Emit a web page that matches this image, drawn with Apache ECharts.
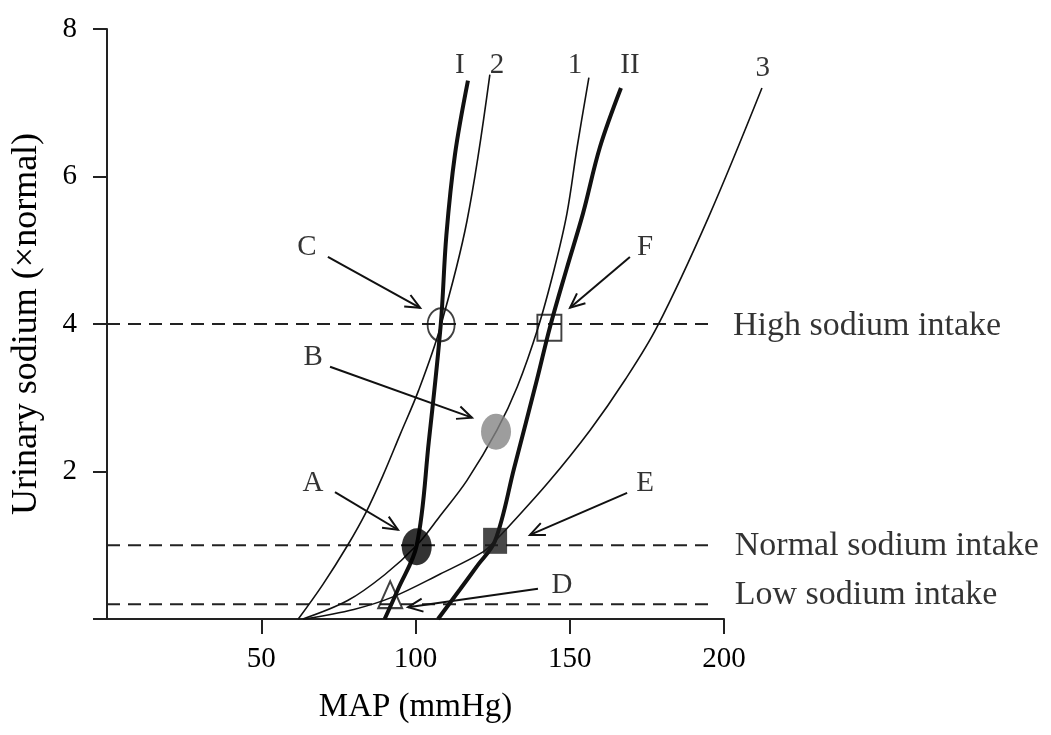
<!DOCTYPE html>
<html>
<head>
<meta charset="utf-8">
<script src="https://cdn.jsdelivr.net/npm/echarts@6/dist/echarts.min.js"></script>
<style>
html,body{margin:0;padding:0;background:#fff;}
#chart{width:1051px;height:735px;}
</style>
</head>
<body>
<div id="chart"></div>
<script>
// ---- data ----
var xTicks = [50, 100, 150, 200];
var yTicks = [0, 2, 4, 6, 8];
var yLabels = [2, 4, 6, 8];

// chronic curves (thick)
var curveI  = [[90,0],[94.3,0.4],[100.4,1],[104.3,2.4],[108.2,4],[110,5.2],[112.8,6.3],[117,7.3]];
var curveII = [[107.3,0],[114.4,0.4],[120,0.72],[125.8,1.06],[132,2.05],[139.4,3.25],[143.6,3.96],[149,4.75],[154.3,5.5],[159.8,6.4],[166.6,7.2]];
// acute curves (thin)
var curve1 = [[63.5,0],[78,0.25],[90,0.6],[100.4,1],[108,1.4],[116.7,1.88],[126.4,2.56],[133,3.15],[139.8,3.96],[145,4.75],[149.1,5.5],[152.4,6.4],[156.2,7.34]];
var curve2 = [[62,0],[70,0.47],[78,1],[84,1.45],[89.5,1.95],[95,2.5],[101,3.1],[108,3.95],[116.7,5.4],[124.1,7.38]];
var curve3 = [[64,0],[80,0.13],[92.7,0.3],[108,0.61],[121.9,0.91],[125.8,1.06],[129.7,1.23],[143,1.85],[156.6,2.56],[167.9,3.24],[178.3,3.96],[195,5.45],[212.3,7.2]];

var curveNames = ['I', '2', '1', 'II', '3'];
var curveLabelAt = [[114.4,7.51],[126.4,7.51],[151.7,7.51],[169.5,7.51],[212.6,7.47]];

// sodium intake levels
var levelValues = [4, 1, 0.2];
var levelNames = ['High sodium intake', 'Normal sodium intake', 'Low sodium intake'];
var levelEndX = 196;
var levelLabelAt = [[202.9,3.97],[203.5,0.99],[203.5,0.33]];

// operating points A-F
var pointNames = ['A', 'B', 'C', 'D', 'E', 'F'];
var pointValues = [[100.4,0.98],[126.1,2.54],[108.3,3.99],[91.8,0.33],[125.8,1.06],[143.4,3.95]];
var letterAt = [[66.8,1.84],[66.8,3.55],[64.8,5.04],[147.5,0.46],[174.4,1.84],[174.4,5.04]];
var arrowFrom = [[73.9,1.72],[72.3,3.42],[71.6,4.91],[139.7,0.41],[168.6,1.71],[169.5,4.91]];
var arrowTo   = [[94.3,1.21],[118.3,2.73],[101.5,4.22],[97.6,0.16],[137.1,1.14],[150.1,4.22]];

// ---- chart ----
var FONT = "'Liberation Serif', 'DejaVu Serif', serif";
var INK = '#000';

var X_LEFT = 107, X_RIGHT_PX = 724, X_MAX = 200, X_MAX_EXT = 220;
var pxPerUnit = (X_RIGHT_PX - X_LEFT) / X_MAX;
var extRight = 1051 - (X_LEFT + X_MAX_EXT * pxPerUnit);

var markerStyles = {
  A: {symbol:'circle', size:[30,37], itemStyle:{color:'#000', borderWidth:0}},
  B: {symbol:'circle', size:[30,36], itemStyle:{color:'#858585', borderWidth:0}},
  C: {symbol:'circle', size:[27,33], itemStyle:{color:'rgba(0,0,0,0)', borderColor:'#111', borderWidth:2}},
  D: {symbol:'triangle', size:[24,27], itemStyle:{color:'rgba(0,0,0,0)', borderColor:'#111', borderWidth:2}},
  E: {symbol:'rect', size:[24,26], itemStyle:{color:'#1a1a1a', borderWidth:0}},
  F: {symbol:'rect', size:[24,26], itemStyle:{color:'rgba(0,0,0,0)', borderColor:'#111', borderWidth:2}}
};

function curveSeries(data, width) {
  return {type:'line', data:data, smooth:0.35, showSymbol:false, symbol:'none', clip:false,
    xAxisIndex:1, yAxisIndex:1,
    lineStyle:{color:'#111', width:width}, z:3, silent:true};
}

var series = [
  curveSeries(curveI, 4),
  curveSeries(curve2, 1.6),
  curveSeries(curve1, 1.6),
  curveSeries(curveII, 4),
  curveSeries(curve3, 1.6)
];

levelValues.forEach(function (v) {
  series.push({type:'line', data:[[0,v],[levelEndX,v]], showSymbol:false, symbol:'none',
    lineStyle:{color:'#222', width:2.2, type:[13,8]}, z:2, silent:true});
});

function textSeries(points, names, pos, size) {
  return {type:'scatter', symbolSize:0, clip:false, silent:true, z:6,
    xAxisIndex:1, yAxisIndex:1,
    data: points.map(function (p, i) { return {value:p, name:names[i]}; }),
    label:{show:true, position:pos, distance:0, formatter:'{b}', color:INK, fontFamily:FONT, fontSize:size}};
}
series.push(textSeries(curveLabelAt, curveNames, 'inside', 29));
series.push(textSeries(letterAt, pointNames, 'inside', 29));
series.push(textSeries(levelLabelAt, levelNames, 'right', 34));

series.push({type:'scatter', clip:false, silent:true, z:5,
  data: pointValues.map(function (p, i) {
    var s = markerStyles[pointNames[i]];
    return {value:p, symbol:s.symbol, symbolSize:s.size, itemStyle:s.itemStyle};
  })});

series.push({type:'custom', clip:false, silent:true, z:4,
  data: arrowFrom.map(function (p, i) { return [p[0], p[1], arrowTo[i][0], arrowTo[i][1]]; }),
  renderItem: function (params, api) {
    var p0 = api.coord([api.value(0), api.value(1)]);
    var p1 = api.coord([api.value(2), api.value(3)]);
    var ang = Math.atan2(p1[1]-p0[1], p1[0]-p0[0]);
    var L = 16, a = 0.42;
    var h1 = [p1[0] - L*Math.cos(ang - a), p1[1] - L*Math.sin(ang - a)];
    var h2 = [p1[0] - L*Math.cos(ang + a), p1[1] - L*Math.sin(ang + a)];
    return {type:'group', children:[
      {type:'line', shape:{x1:p0[0], y1:p0[1], x2:p1[0], y2:p1[1]}, style:{stroke:'#111', lineWidth:2}},
      {type:'polyline', shape:{points:[h1, p1, h2]}, style:{stroke:'#111', lineWidth:2, fill:null}}
    ]};
  }});

var chart = echarts.init(document.getElementById('chart'), null, {renderer:'canvas'});
chart.setOption({
  animation:false,
  backgroundColor:'#fff',
  grid:[
    {left:X_LEFT, right:1051 - X_RIGHT_PX, top:29, bottom:116, containLabel:false},
    {left:X_LEFT, right:extRight, top:29, bottom:116, containLabel:false}
  ],
  xAxis:[{
    type:'value', min:0, max:X_MAX, interval:50, gridIndex:0,
    name:'MAP (mmHg)', nameLocation:'middle', nameGap:72,
    nameTextStyle:{fontFamily:FONT, fontSize:33, color:INK},
    axisLine:{show:true, onZero:false, lineStyle:{color:'#222', width:2}},
    axisTick:{show:true, inside:false, length:15, customValues:xTicks, lineStyle:{color:'#222', width:2}},
    axisLabel:{margin:26, customValues:xTicks, fontFamily:FONT, fontSize:29, color:INK,
      formatter:function(v){return v===0?'':String(v);}},
    splitLine:{show:false}
  },{
    type:'value', min:0, max:X_MAX_EXT, interval:20, gridIndex:1, show:false
  }],
  yAxis:[{
    type:'value', min:0, max:8, interval:2, gridIndex:0,
    name:'Urinary sodium (×normal)', nameLocation:'middle', nameGap:62,
    nameTextStyle:{fontFamily:FONT, fontSize:36, color:INK},
    axisLine:{show:true, onZero:false, lineStyle:{color:'#222', width:2}},
    axisTick:{show:true, inside:false, length:14, customValues:yTicks, lineStyle:{color:'#222', width:2}},
    axisLabel:{margin:30, customValues:yLabels, fontFamily:FONT, fontSize:29, color:INK,
      formatter:function(v){return v===0?'':String(v);}},
    splitLine:{show:false}
  },{
    type:'value', min:0, max:8, interval:2, gridIndex:1, show:false
  }],
  series:series
});
</script>
</body>
</html>
